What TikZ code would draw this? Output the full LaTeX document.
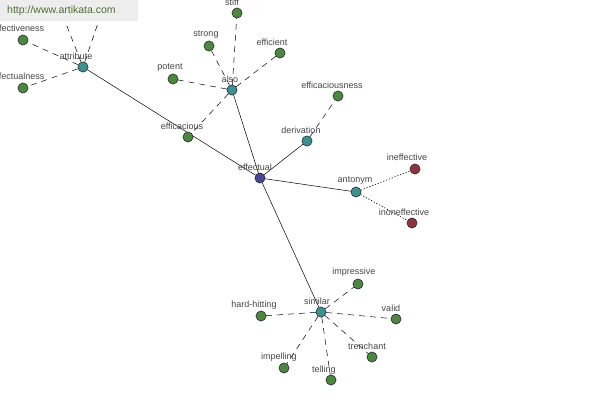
\documentclass[tikz,border=0pt]{standalone}
\usepackage{fontspec}
\setmainfont{Liberation Sans}
\begin{document}
\begin{tikzpicture}[x=1pt,y=-1pt,
  wnode/.style={circle,draw=black!80,line width=0.5pt,minimum size=10pt,inner sep=0pt},
  core/.style={wnode,fill={rgb,255:red,70;green,70;blue,150}},
  rel/.style={wnode,fill={rgb,255:red,60;green,145;blue,145}},
  leaf/.style={wnode,fill={rgb,255:red,75;green,135;blue,65}},
  anti/.style={wnode,fill={rgb,255:red,145;green,50;blue,65}},
  lbl/.style={font=\fontsize{9}{10}\selectfont,text={rgb,255:red,70;green,70;blue,70},inner sep=0pt},
  solidedge/.style={draw=black,line width=0.5pt},
  dashedge/.style={draw=black,line width=0.5pt,dash pattern=on 6pt off 5pt},
  dotedge/.style={draw=black,line width=0.6pt,dash pattern=on 1.2pt off 1.8pt}]
\useasboundingbox (0,0) rectangle (600,400);
\fill[white] (0,0) rectangle (600,400);
% coordinates of nodes hidden above
\coordinate (hid1) at (52,-12);
\coordinate (hid2) at (110,-12);
% nodes
\node[core] (effectual) at (260,178) {};
\node[rel] (attribute) at (83,67) {};
\node[rel] (also) at (232,90) {};
\node[rel] (derivation) at (307,141) {};
\node[rel] (antonym) at (356,192) {};
\node[rel] (similar) at (321,312) {};
\node[leaf] (efficacious) at (188,137) {};
\node[leaf] (stiff) at (237,13) {};
\node[leaf] (strong) at (209,46) {};
\node[leaf] (efficient) at (280,53) {};
\node[leaf] (potent) at (173,79) {};
\node[leaf] (efficaciousness) at (338,96) {};
\node[anti] (ineffective) at (415,169) {};
\node[anti] (inoneffective) at (412,223) {};
\node[leaf] (effectiveness) at (23,40) {};
\node[leaf] (effectualness) at (23,88) {};
\node[leaf] (impressive) at (358,284) {};
\node[leaf] (valid) at (396,319) {};
\node[leaf] (trenchant) at (372,357) {};
\node[leaf] (telling) at (331,380) {};
\node[leaf] (impelling) at (284,368) {};
\node[leaf] (hardhitting) at (261,316) {};
% edges
\path[solidedge] (effectual) -- (attribute);
\path[solidedge] (effectual) -- (also);
\path[solidedge] (effectual) -- (derivation);
\path[solidedge] (effectual) -- (antonym);
\path[solidedge] (effectual) -- (similar);
\path[dashedge] (also) -- (stiff);
\path[dashedge] (also) -- (strong);
\path[dashedge] (also) -- (efficient);
\path[dashedge] (also) -- (potent);
\path[dashedge] (also) -- (efficacious);
\path[dashedge] (derivation) -- (efficaciousness);
\path[dotedge] (antonym) -- (ineffective);
\path[dotedge] (antonym) -- (inoneffective);
\path[dashedge] (attribute) -- (effectiveness);
\path[dashedge] (attribute) -- (effectualness);
\path[dashedge] (attribute) -- (hid1);
\path[dashedge] (attribute) -- (hid2);
\path[dashedge] (similar) -- (impressive);
\path[dashedge] (similar) -- (valid);
\path[dashedge] (similar) -- (trenchant);
\path[dashedge] (similar) -- (telling);
\path[dashedge] (similar) -- (impelling);
\path[dashedge] (similar) -- (hardhitting);
% redraw nodes on top
\foreach \n/\s in {effectual/core,attribute/rel,also/rel,derivation/rel,antonym/rel,similar/rel,
  efficacious/leaf,stiff/leaf,strong/leaf,efficient/leaf,potent/leaf,efficaciousness/leaf,
  ineffective/anti,inoneffective/anti,effectiveness/leaf,effectualness/leaf,impressive/leaf,
  valid/leaf,trenchant/leaf,telling/leaf,impelling/leaf,hardhitting/leaf}
  \node[\s] at (\n.center) {};
% labels
\node[lbl] (l-effectual) at ([xshift=-5pt,yshift=11pt]effectual.center) {effectual};
\node[lbl] (l-attribute) at ([xshift=-7pt,yshift=11pt]attribute.center) {attribute};
\node[lbl] (l-also) at ([xshift=-2pt,yshift=11pt]also.center) {also};
\node[lbl] (l-derivation) at ([xshift=-6pt,yshift=11pt]derivation.center) {derivation};
\node[lbl] (l-antonym) at ([xshift=-1pt,yshift=11pt]antonym.center) {antonym};
\node[lbl] (l-similar) at ([xshift=-4pt,yshift=11pt]similar.center) {similar};
\node[lbl] (l-efficacious) at ([xshift=-6pt,yshift=11pt]efficacious.center) {efficacious};
\node[lbl] (l-stiff) at ([xshift=-5pt,yshift=11pt]stiff.center) {stiff};
\node[lbl] (l-strong) at ([xshift=-3pt,yshift=11pt]strong.center) {strong};
\node[lbl] (l-efficient) at ([xshift=-8pt,yshift=11pt]efficient.center) {efficient};
\node[lbl] (l-potent) at ([xshift=-3pt,yshift=11pt]potent.center) {potent};
\node[lbl] (l-efficaciousness) at ([xshift=-6pt,yshift=11pt]efficaciousness.center) {efficaciousness};
\node[lbl] (l-ineffective) at ([xshift=-8pt,yshift=12pt]ineffective.center) {ineffective};
\node[lbl] (l-inoneffective) at ([xshift=-8pt,yshift=11pt]inoneffective.center) {inoneffective};
\node[lbl] (l-effectiveness) at ([xshift=-5pt,yshift=12pt]effectiveness.center) {effectiveness};
\node[lbl] (l-effectualness) at ([xshift=-5pt,yshift=12pt]effectualness.center) {effectualness};
\node[lbl] (l-impressive) at ([xshift=-4pt,yshift=12pt]impressive.center) {impressive};
\node[lbl] (l-valid) at ([xshift=-5pt,yshift=11pt]valid.center) {valid};
\node[lbl] (l-trenchant) at ([xshift=-5pt,yshift=11pt]trenchant.center) {trenchant};
\node[lbl] (l-telling) at ([xshift=-7pt,yshift=10pt]telling.center) {telling};
\node[lbl] (l-impelling) at ([xshift=-5pt,yshift=11pt]impelling.center) {impelling};
\node[lbl] (l-hardhitting) at ([xshift=-7pt,yshift=11pt]hardhitting.center) {hard-hitting};
% watermark
\fill[white!93!black] (0,0) rectangle (138,21);
\node[font=\fontsize{10.5}{12}\selectfont,text={rgb,255:red,80;green,110;blue,50},anchor=west,inner sep=0pt] (wm) at (7,11) {http://www.artikata.com};
\end{tikzpicture}
\end{document}
